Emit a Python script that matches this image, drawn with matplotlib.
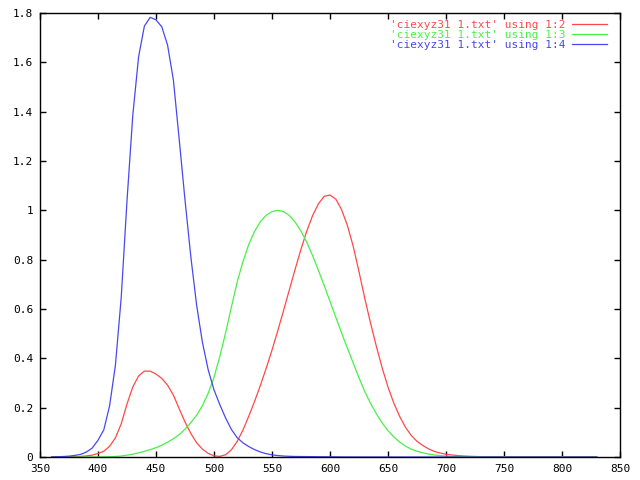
import numpy as np
import matplotlib
matplotlib.use("Agg")
import matplotlib.pyplot as plt
from matplotlib.ticker import FuncFormatter, MultipleLocator

# CIE 1931 2 deg colour matching functions, 5 nm steps
dalga_boyu = np.arange(360, 835, 5)

x_bar = [0.000130, 0.000232, 0.000415, 0.000742, 0.001368, 0.002236, 0.004243, 0.007650,
         0.014310, 0.023190, 0.043510, 0.077630, 0.134380, 0.214770, 0.283900, 0.328500,
         0.348280, 0.348060, 0.336200, 0.318700, 0.290800, 0.251100, 0.195360, 0.142100,
         0.095640, 0.057950, 0.032010, 0.014700, 0.004900, 0.002400, 0.009300, 0.029100,
         0.063270, 0.109600, 0.165500, 0.225750, 0.290400, 0.359700, 0.433450, 0.512050,
         0.594500, 0.678400, 0.762100, 0.842500, 0.916300, 0.978600, 1.026300, 1.056700,
         1.062200, 1.045600, 1.002600, 0.938400, 0.854450, 0.751400, 0.642400, 0.541900,
         0.447900, 0.360800, 0.283500, 0.218700, 0.164900, 0.121200, 0.087400, 0.063600,
         0.046770, 0.032900, 0.022700, 0.015840, 0.011359, 0.008111, 0.005790, 0.004109,
         0.002899, 0.002049, 0.001440, 0.001000, 0.000690, 0.000476, 0.000332, 0.000235,
         0.000166, 0.000117, 0.000083, 0.000059, 0.000042, 0.000029, 0.000021, 0.000015,
         0.000010, 0.000007, 0.000005, 0.000004, 0.000003, 0.000002, 0.000001]

y_bar = [0.000004, 0.000007, 0.000012, 0.000022, 0.000039, 0.000064, 0.000120, 0.000217,
         0.000396, 0.000640, 0.001210, 0.002180, 0.004000, 0.007300, 0.011600, 0.016840,
         0.023000, 0.029800, 0.038000, 0.048000, 0.060000, 0.073900, 0.090980, 0.112600,
         0.139020, 0.169300, 0.208020, 0.258600, 0.323000, 0.407300, 0.503000, 0.608200,
         0.710000, 0.793200, 0.862000, 0.914850, 0.954000, 0.980300, 0.994950, 1.000000,
         0.995000, 0.978600, 0.952000, 0.915400, 0.870000, 0.816300, 0.757000, 0.694900,
         0.631000, 0.566800, 0.503000, 0.441200, 0.381000, 0.321000, 0.265000, 0.217000,
         0.175000, 0.138200, 0.107000, 0.081600, 0.061000, 0.044580, 0.032000, 0.023200,
         0.017000, 0.011920, 0.008210, 0.005723, 0.004102, 0.002929, 0.002091, 0.001484,
         0.001047, 0.000740, 0.000520, 0.000361, 0.000249, 0.000172, 0.000120, 0.000085,
         0.000060, 0.000042, 0.000030, 0.000021, 0.000015, 0.000011, 0.000007, 0.000005,
         0.000004, 0.000003, 0.000002, 0.000001, 0.000001, 0.000001, 0.000000]

z_bar = [0.000606, 0.001086, 0.001946, 0.003486, 0.006450, 0.010550, 0.020050, 0.036210,
         0.067850, 0.110200, 0.207400, 0.371300, 0.645600, 1.039050, 1.385600, 1.622960,
         1.747060, 1.782600, 1.772110, 1.744100, 1.669200, 1.528100, 1.287640, 1.041900,
         0.812950, 0.616200, 0.465180, 0.353300, 0.272000, 0.212300, 0.158200, 0.111700,
         0.078250, 0.057250, 0.042160, 0.029840, 0.020300, 0.013400, 0.008750, 0.005750,
         0.003900, 0.002750, 0.002100, 0.001800, 0.001650, 0.001400, 0.001100, 0.001000,
         0.000800, 0.000600, 0.000340, 0.000240, 0.000190, 0.000100, 0.000050, 0.000030,
         0.000020, 0.000010] + [0.0] * 37

etiketler = ["'ciexyz31 1.txt' using 1:2",
             "'ciexyz31 1.txt' using 1:3",
             "'ciexyz31 1.txt' using 1:4"]
renkler = ["#ff4848", "#48f048", "#4848f0"]

font = "DejaVu Sans Mono"
fig = plt.figure(figsize=(6.4, 4.8), dpi=100)
ax = fig.add_axes([40 / 640, 1 - 457 / 480, 580 / 640, 444 / 480])

# ince, 1 piksellik çizgiler
for seri, etiket, renk in zip([x_bar, y_bar, z_bar], etiketler, renkler):
    ax.plot(dalga_boyu, seri, color=renk, lw=0.9, label=etiket)

ax.set_xlim(350, 850)
ax.set_ylim(0, 1.8)
ax.xaxis.set_major_locator(MultipleLocator(50))
ax.yaxis.set_major_locator(MultipleLocator(0.2))
ax.yaxis.set_major_formatter(FuncFormatter(lambda v, p: "%g" % round(v, 2)))
ax.tick_params(direction="in", length=4, width=1, top=True, right=True,
               labelsize=8, pad=5)
for lbl in ax.get_xticklabels() + ax.get_yticklabels():
    lbl.set_fontfamily(font)
for sp in ax.spines.values():
    sp.set_linewidth(1)

leg = ax.legend(loc="upper right", bbox_to_anchor=(1 - 2 / 580, 1 + 4 / 444),
                frameon=False, markerfirst=False,
                prop={"family": font, "size": 8}, handlelength=3.1,
                labelspacing=0.0, borderaxespad=0.6, handletextpad=0.6)
for metin, renk in zip(leg.get_texts(), renkler):
    metin.set_color(renk)

fig.savefig("out.png", dpi=100)
